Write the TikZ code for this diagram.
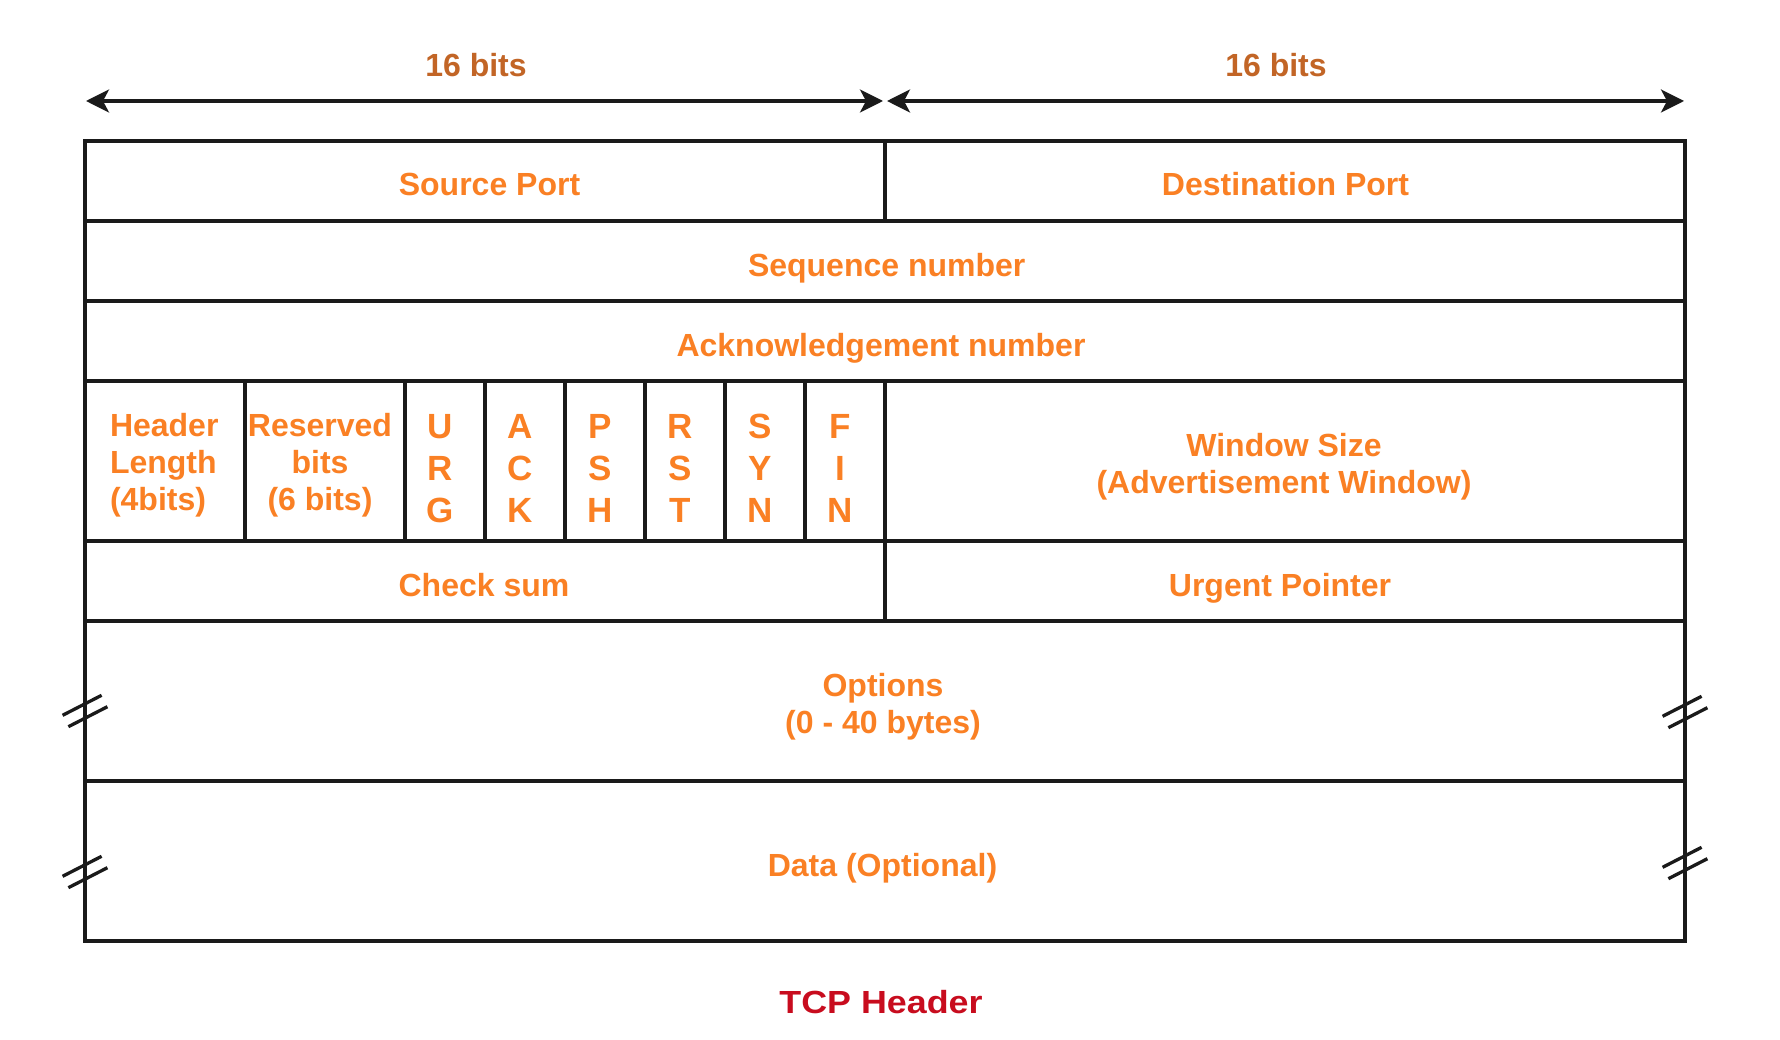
\documentclass[tikz,border=0pt]{standalone}
\usepackage{fontspec}
\setmainfont{Liberation Sans}
\newfontfamily\widefont{Liberation Sans}[FakeStretch=1.12]
\usetikzlibrary{arrows.meta}
\definecolor{fieldorange}{RGB}{250,128,36}
\definecolor{bitsbrown}{RGB}{194,101,38}
\definecolor{titlered}{RGB}{200,12,30}
\definecolor{linec}{RGB}{26,26,26}
\tikzset{
  cell/.style={rectangle, draw=linec, line width=3.3pt, inner sep=0pt, outer sep=0pt, anchor=north west},
  lbl/.style={text=fieldorange, font=\fontsize{32}{37}\selectfont\bfseries, inner sep=0pt, outer sep=0pt, anchor=base},
  mlbl/.style={lbl, anchor=north, align=center},
  flaglbl/.style={lbl, font=\fontsize{35}{42}\selectfont\bfseries, anchor=north, align=center},
  dimline/.style={draw=linec, line width=3.3pt,
    {Stealth[length=23pt,width=23pt,inset=6pt]}-{Stealth[length=23pt,width=23pt,inset=6pt]}},
  brkline/.style={draw=linec, line width=3.3pt},
  brk/.pic={\draw[brkline] (-22.4,4.3) -- (16.6,-15.7);
            \draw[brkline] (-16.6,15.7) -- (22.4,-4.3);}
}
\begin{document}
\begin{tikzpicture}[x=1pt,y=-1pt]
\useasboundingbox (0,0) rectangle (1780,1040);
\fill[white] (0,0) rectangle (1780,1040);

% bit-width dimension arrows
\coordinate (aL) at (86,101);
\coordinate (aML) at (883,101);
\coordinate (aMR) at (887,101);
\coordinate (aR) at (1684,101);
\draw[dimline] (aL) -- (aML);
\draw[dimline] (aMR) -- (aR);
\node[lbl, text=bitsbrown] (bitsL) at (476,77) {16 bits};
\node[lbl, text=bitsbrown] (bitsR) at (1276,77) {16 bits};

% header cells
\node[cell, minimum width=800pt, minimum height=80pt] (srcport) at (85,141) {};
\node[cell, minimum width=800pt, minimum height=80pt] (dstport) at (885,141) {};
\node[cell, minimum width=1600pt, minimum height=80pt] (seqno) at (85,221) {};
\node[cell, minimum width=1600pt, minimum height=80pt] (ackno) at (85,301) {};
\node[cell, minimum width=160pt, minimum height=160pt] (hlen) at (85,381) {};
\node[cell, minimum width=160pt, minimum height=160pt] (resv) at (245,381) {};
\node[cell, minimum width=80pt, minimum height=160pt] (furg) at (405,381) {};
\node[cell, minimum width=80pt, minimum height=160pt] (fack) at (485,381) {};
\node[cell, minimum width=80pt, minimum height=160pt] (fpsh) at (565,381) {};
\node[cell, minimum width=80pt, minimum height=160pt] (frst) at (645,381) {};
\node[cell, minimum width=80pt, minimum height=160pt] (fsyn) at (725,381) {};
\node[cell, minimum width=80pt, minimum height=160pt] (ffin) at (805,381) {};
\node[cell, minimum width=800pt, minimum height=160pt] (win) at (885,381) {};
\node[cell, minimum width=800pt, minimum height=80pt] (chk) at (85,541) {};
\node[cell, minimum width=800pt, minimum height=80pt] (urgp) at (885,541) {};
\node[cell, minimum width=1600pt, minimum height=160pt] (opts) at (85,621) {};
\node[cell, minimum width=1600pt, minimum height=160pt] (data) at (85,781) {};

% break marks
\coordinate (mL1) at (85,711);
\coordinate (mL2) at (85,872);
\coordinate (mR1) at (1685,712);
\coordinate (mR2) at (1685,863);
\pic at (mL1) {brk};
\pic at (mL2) {brk};
\pic at (mR1) {brk};
\pic at (mR2) {brk};

% labels
\node[lbl] (tsrc) at (489.5,196) {Source Port};
\node[lbl] (tdst) at (1285.5,196) {Destination Port};
\node[lbl] (tseq) at (886.7,277) {Sequence number};
\node[lbl] (tack) at (881,357) {Acknowledgement number};
\node[lbl, anchor=north west, align=left] (thlen) at (110,413.5) {Header\\Length\\(4bits)};
\node[mlbl] (tresv) at (320,413.5) {Reserved\\bits\\(6 bits)};
\node[flaglbl] (turg) at (440.5,414.2) {U\\R\\G};
\node[flaglbl] (tack2) at (520.5,414.2) {A\\C\\K};
\node[flaglbl] (tpsh) at (600.5,414.2) {P\\S\\H};
\node[flaglbl] (trst) at (680.5,414.2) {R\\S\\T};
\node[flaglbl] (tsyn) at (760.5,414.2) {S\\Y\\N};
\node[flaglbl] (tfin) at (840,414.2) {F\\I\\N};
\node[mlbl] (twin) at (1284,433.7) {Window Size\\(Advertisement Window)};
\node[lbl] (tchk) at (484,596) {Check sum};
\node[lbl] (turgp) at (1280,596) {Urgent Pointer};
\node[mlbl] (topts) at (883,673.5) {Options\\(0 - 40 bytes)};
\node[lbl] (tdata) at (882.5,876.5) {Data (Optional)};
\node[lbl, text=titlered, font=\widefont\fontsize{32}{37}\selectfont\bfseries] (ttitle) at (881,1013) {TCP Header};
\end{tikzpicture}
\end{document}
